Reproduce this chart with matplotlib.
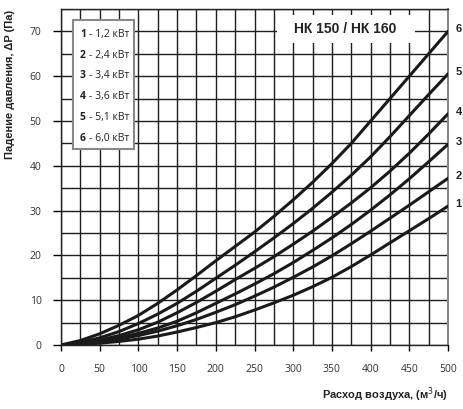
import matplotlib
matplotlib.use("Agg")
import matplotlib.pyplot as plt
from matplotlib.patches import Rectangle

# data
airflow = [0, 25, 50, 75, 100, 125, 150, 175, 200, 225, 250,
           275, 300, 325, 350, 375, 400, 425, 450, 475, 500]
dp_1 = [0, 0.15, 0.4, 0.8, 1.3, 2.0, 2.9, 3.9, 5.0, 6.3, 7.8,
        9.4, 11.1, 13.0, 15.1, 17.5, 20.1, 22.8, 25.5, 28.2, 31.0]
dp_2 = [0, 0.25, 0.7, 1.3, 2.1, 3.1, 4.3, 5.7, 7.3, 9.0, 10.9,
        12.9, 15.1, 17.4, 19.9, 22.6, 25.4, 28.3, 31.2, 34.2, 37.2]
dp_3 = [0, 0.3, 0.9, 1.6, 2.6, 3.8, 5.3, 7.2, 9.3, 11.4, 13.6,
        15.9, 18.4, 21.1, 23.9, 26.9, 30.1, 33.5, 37.1, 40.9, 44.8]
dp_4 = [0, 0.4, 1.1, 2.1, 3.4, 5.1, 7.2, 9.5, 12.0, 14.6, 17.1,
        19.7, 22.5, 25.4, 28.5, 31.7, 35.1, 38.8, 42.8, 47.1, 51.6]
dp_5 = [0, 0.6, 1.6, 3.0, 4.8, 6.9, 9.3, 12.0, 14.9, 17.8, 20.8,
        23.9, 27.1, 30.5, 34.1, 37.9, 42.0, 46.5, 51.2, 55.9, 60.5]
dp_6 = [0, 1.0, 2.5, 4.4, 6.6, 9.3, 12.3, 15.5, 18.8, 22.0, 25.2,
        28.7, 32.4, 36.3, 40.5, 45.0, 50.0, 55.0, 60.0, 65.0, 70.0]
curves = [dp_1, dp_2, dp_3, dp_4, dp_5, dp_6]
curve_ids = ['1', '2', '3', '4', '5', '6']
powers = ['1,2 кВт', '2,4 кВт', '3,4 кВт', '3,6 кВт', '5,1 кВт', '6,0 кВт']
x_ticks = [0, 50, 100, 150, 200, 250, 300, 350, 400, 450, 500]
y_ticks = [0, 10, 20, 30, 40, 50, 60, 70]

fig = plt.figure(figsize=(4.63, 4.09), dpi=100)
ax = fig.add_axes([61 / 463, 1 - 345 / 409, 387 / 463, 336 / 409])

ax.set_xlim(0, 500)
ax.set_ylim(0, 75)
ax.set_xticks(x_ticks)
ax.set_yticks(y_ticks)
ax.set_xticks(range(0, 501, 25), minor=True)
ax.set_yticks(range(0, 76, 5), minor=True)
ax.grid(True, which='both', color='#1e1e1e', linewidth=1.0)
ax.set_axisbelow(True)
ax.tick_params(which='minor', length=0)
ax.tick_params(axis='x', which='major', length=4, width=1, pad=10,
               labelsize=7.5, labelcolor='#333333')
ax.tick_params(axis='y', which='major', length=6, width=1, pad=8,
               labelsize=7.5, labelcolor='#333333')
for lab in ax.get_xticklabels() + ax.get_yticklabels():
    lab.set_family('Open Sans')
for s in ax.spines.values():
    s.set_color('#222222')
    s.set_linewidth(1.0)
ax.spines['right'].set_color('#888888')
ax.spines['right'].set_linewidth(1.5)

for dp, cid in zip(curves, curve_ids):
    ax.plot(airflow, dp, color='#1a1a1a', linewidth=2.2, zorder=4,
            solid_capstyle='round', solid_joinstyle='round')
    ax.text(510, dp[-1] + 0.5, cid, fontsize=8, fontweight='bold',
            family='Liberation Sans', ha='left', va='center',
            clip_on=False, color='#222222')

# title box
ax.add_patch(Rectangle((0.558, 0.899), 0.357, 0.083, transform=ax.transAxes,
                       facecolor='white', edgecolor='none', zorder=5))
ax.text(0.734, 0.940, 'НК 150 / НК 160', transform=ax.transAxes,
        fontsize=10, fontweight='bold', family='Liberation Sans',
        ha='center', va='center', zorder=6, color='#222222')

# legend box
ax.add_patch(Rectangle((0.031, 0.583), 0.158, 0.384, transform=ax.transAxes,
                       facecolor='white', edgecolor='#888888', linewidth=1.5,
                       zorder=5))
for i, (cid, p) in enumerate(zip(curve_ids, powers)):
    yy = (345 - (34.3 + i * 20.8)) / 336
    ax.text(0.049, yy, cid, transform=ax.transAxes, fontsize=7.5,
            fontweight='bold', family='Open Sans', ha='left', va='center',
            zorder=6, color='#222222')
    ax.text(0.072, yy, '- ' + p, transform=ax.transAxes, fontsize=7.5,
            family='Open Sans', ha='left', va='center', zorder=6,
            color='#222222')

fig.text(10 / 463, 1 - 10 / 409, 'Падение давления, ΔP (Па)', rotation=90,
         fontsize=8, fontweight='bold', family='Liberation Sans',
         ha='center', va='top', color='#222222')
fig.text(448 / 463, 1 - 395 / 409, 'Расход воздуха, (м$^3$/ч)',
         fontsize=8, fontweight='bold', family='Liberation Sans',
         ha='right', va='center', color='#222222')

fig.savefig('out.png', dpi=100)
